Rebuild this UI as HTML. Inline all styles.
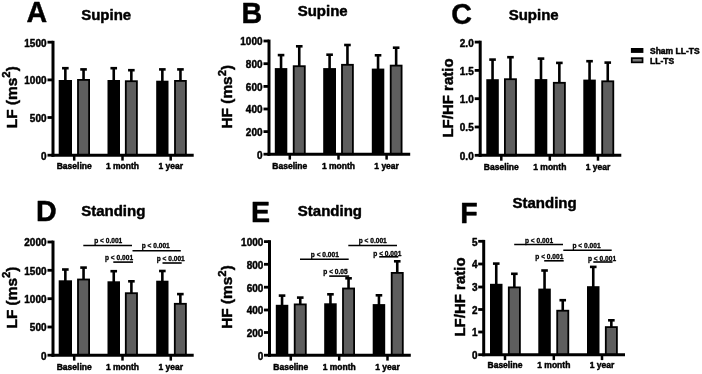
<!DOCTYPE html>
<html lang="en">
<head>
<meta charset="utf-8">
<title>Figure</title>
<style>
html,body{margin:0;padding:0;background:#fff;}
body{width:702px;height:374px;overflow:hidden;}
svg{display:block;filter:blur(0.35px);}
svg text{font-family:"Liberation Sans",sans-serif;font-weight:bold;fill:#000;stroke:#000;stroke-width:0.45px;stroke-linejoin:round;}
svg text.p{stroke-width:0.3px;}
</style>
</head>
<body>
<svg width="702" height="374" viewBox="0 0 702 374">
<rect x="0" y="0" width="702" height="374" fill="#fff"/>
<g id="panelA">
<line x1="65.35" y1="68.30" x2="65.35" y2="81.00" stroke="#000" stroke-width="2.6"/>
<line x1="62.05" y1="68.20" x2="68.65" y2="68.20" stroke="#000" stroke-width="2.6"/>
<rect x="58.70" y="80.00" width="13.30" height="75.20" fill="#000"/>
<line x1="83.55" y1="69.50" x2="83.55" y2="80.00" stroke="#000" stroke-width="2.6"/>
<line x1="80.25" y1="69.40" x2="86.85" y2="69.40" stroke="#000" stroke-width="2.6"/>
<rect x="78.00" y="79.90" width="11.10" height="75.30" fill="#5e5e5e" stroke="#000" stroke-width="1.8"/>
<line x1="113.75" y1="68.30" x2="113.75" y2="81.00" stroke="#000" stroke-width="2.6"/>
<line x1="110.45" y1="68.20" x2="117.05" y2="68.20" stroke="#000" stroke-width="2.6"/>
<rect x="107.50" y="80.00" width="12.50" height="75.20" fill="#000"/>
<line x1="131.35" y1="70.30" x2="131.35" y2="81.30" stroke="#000" stroke-width="2.6"/>
<line x1="128.05" y1="70.20" x2="134.65" y2="70.20" stroke="#000" stroke-width="2.6"/>
<rect x="125.80" y="81.20" width="11.10" height="74.00" fill="#5e5e5e" stroke="#000" stroke-width="1.8"/>
<line x1="162.35" y1="69.50" x2="162.35" y2="81.70" stroke="#000" stroke-width="2.6"/>
<line x1="159.05" y1="69.40" x2="165.65" y2="69.40" stroke="#000" stroke-width="2.6"/>
<rect x="156.20" y="80.70" width="12.30" height="74.50" fill="#000"/>
<line x1="180.45" y1="69.50" x2="180.45" y2="81.00" stroke="#000" stroke-width="2.6"/>
<line x1="177.15" y1="69.40" x2="183.75" y2="69.40" stroke="#000" stroke-width="2.6"/>
<rect x="175.00" y="80.90" width="10.90" height="74.30" fill="#5e5e5e" stroke="#000" stroke-width="1.8"/>
<line x1="53.00" y1="40.80" x2="53.00" y2="156.70" stroke="#000" stroke-width="3.0"/>
<line x1="51.50" y1="155.20" x2="193.70" y2="155.20" stroke="#000" stroke-width="3.0"/>
<line x1="47.50" y1="42.20" x2="53.00" y2="42.20" stroke="#000" stroke-width="2.8"/>
<text transform="translate(46.50,46.60) scale(0.96,1)" font-size="10.4" text-anchor="end">1500</text>
<line x1="47.50" y1="79.90" x2="53.00" y2="79.90" stroke="#000" stroke-width="2.8"/>
<text transform="translate(46.50,84.30) scale(0.96,1)" font-size="10.4" text-anchor="end">1000</text>
<line x1="47.50" y1="117.50" x2="53.00" y2="117.50" stroke="#000" stroke-width="2.8"/>
<text transform="translate(46.50,121.90) scale(0.96,1)" font-size="10.4" text-anchor="end">500</text>
<line x1="47.50" y1="155.20" x2="53.00" y2="155.20" stroke="#000" stroke-width="2.8"/>
<text transform="translate(46.50,159.60) scale(0.96,1)" font-size="10.4" text-anchor="end">0</text>
<line x1="74.20" y1="155.20" x2="74.20" y2="160.60" stroke="#000" stroke-width="2.5"/>
<text x="74.20" y="169.40" font-size="8.5" text-anchor="middle">Baseline</text>
<line x1="122.50" y1="155.20" x2="122.50" y2="160.60" stroke="#000" stroke-width="2.5"/>
<text x="122.50" y="169.40" font-size="8.5" text-anchor="middle">1 month</text>
<line x1="170.70" y1="155.20" x2="170.70" y2="160.60" stroke="#000" stroke-width="2.5"/>
<text x="170.70" y="169.40" font-size="8.5" text-anchor="middle">1 year</text>
<text x="26.40" y="21.70" font-size="28.6" text-anchor="start">A</text>
<text x="81.20" y="20.40" font-size="15" text-anchor="start">Supine</text>
<text transform="translate(16.90,97.20) rotate(-90)" font-size="15.4" text-anchor="middle">LF (ms<tspan font-size="11.4" dy="-6.7">2</tspan><tspan dy="6.7">)</tspan></text>
</g>
<g id="panelB">
<line x1="281.05" y1="55.20" x2="281.05" y2="69.10" stroke="#000" stroke-width="2.6"/>
<line x1="277.75" y1="55.10" x2="284.35" y2="55.10" stroke="#000" stroke-width="2.6"/>
<rect x="274.80" y="68.10" width="12.50" height="86.10" fill="#000"/>
<line x1="299.25" y1="46.40" x2="299.25" y2="66.30" stroke="#000" stroke-width="2.6"/>
<line x1="295.95" y1="46.30" x2="302.55" y2="46.30" stroke="#000" stroke-width="2.6"/>
<rect x="293.70" y="66.20" width="11.10" height="88.00" fill="#5e5e5e" stroke="#000" stroke-width="1.8"/>
<line x1="329.60" y1="54.80" x2="329.60" y2="69.10" stroke="#000" stroke-width="2.6"/>
<line x1="326.30" y1="54.70" x2="332.90" y2="54.70" stroke="#000" stroke-width="2.6"/>
<rect x="323.20" y="68.10" width="12.80" height="86.10" fill="#000"/>
<line x1="347.45" y1="45.10" x2="347.45" y2="64.90" stroke="#000" stroke-width="2.6"/>
<line x1="344.15" y1="45.00" x2="350.75" y2="45.00" stroke="#000" stroke-width="2.6"/>
<rect x="342.00" y="64.80" width="10.90" height="89.40" fill="#5e5e5e" stroke="#000" stroke-width="1.8"/>
<line x1="378.05" y1="55.40" x2="378.05" y2="69.60" stroke="#000" stroke-width="2.6"/>
<line x1="374.75" y1="55.30" x2="381.35" y2="55.30" stroke="#000" stroke-width="2.6"/>
<rect x="371.80" y="68.60" width="12.50" height="85.60" fill="#000"/>
<line x1="396.15" y1="47.80" x2="396.15" y2="65.70" stroke="#000" stroke-width="2.6"/>
<line x1="392.85" y1="47.70" x2="399.45" y2="47.70" stroke="#000" stroke-width="2.6"/>
<rect x="390.70" y="65.60" width="10.90" height="88.60" fill="#5e5e5e" stroke="#000" stroke-width="1.8"/>
<line x1="269.00" y1="39.60" x2="269.00" y2="155.70" stroke="#000" stroke-width="3.0"/>
<line x1="267.50" y1="154.20" x2="410.20" y2="154.20" stroke="#000" stroke-width="3.0"/>
<line x1="263.50" y1="41.00" x2="269.00" y2="41.00" stroke="#000" stroke-width="2.8"/>
<text transform="translate(262.50,45.40) scale(0.96,1)" font-size="10.4" text-anchor="end">1000</text>
<line x1="263.50" y1="63.70" x2="269.00" y2="63.70" stroke="#000" stroke-width="2.8"/>
<text transform="translate(262.50,68.10) scale(0.96,1)" font-size="10.4" text-anchor="end">800</text>
<line x1="263.50" y1="86.40" x2="269.00" y2="86.40" stroke="#000" stroke-width="2.8"/>
<text transform="translate(262.50,90.80) scale(0.96,1)" font-size="10.4" text-anchor="end">600</text>
<line x1="263.50" y1="109.00" x2="269.00" y2="109.00" stroke="#000" stroke-width="2.8"/>
<text transform="translate(262.50,113.40) scale(0.96,1)" font-size="10.4" text-anchor="end">400</text>
<line x1="263.50" y1="131.60" x2="269.00" y2="131.60" stroke="#000" stroke-width="2.8"/>
<text transform="translate(262.50,136.00) scale(0.96,1)" font-size="10.4" text-anchor="end">200</text>
<line x1="263.50" y1="154.20" x2="269.00" y2="154.20" stroke="#000" stroke-width="2.8"/>
<text transform="translate(262.50,158.60) scale(0.96,1)" font-size="10.4" text-anchor="end">0</text>
<line x1="289.80" y1="154.20" x2="289.80" y2="159.60" stroke="#000" stroke-width="2.5"/>
<text x="289.80" y="168.50" font-size="8.5" text-anchor="middle">Baseline</text>
<line x1="338.50" y1="154.20" x2="338.50" y2="159.60" stroke="#000" stroke-width="2.5"/>
<text x="338.50" y="168.50" font-size="8.5" text-anchor="middle">1 month</text>
<line x1="386.60" y1="154.20" x2="386.60" y2="159.60" stroke="#000" stroke-width="2.5"/>
<text x="386.60" y="168.50" font-size="8.5" text-anchor="middle">1 year</text>
<text x="241.50" y="22.70" font-size="28.6" text-anchor="start">B</text>
<text x="297.70" y="15.80" font-size="15" text-anchor="start">Supine</text>
<text transform="translate(232.40,96.70) rotate(-90)" font-size="15.4" text-anchor="middle">HF (ms<tspan font-size="11.4" dy="-6.7">2</tspan><tspan dy="6.7">)</tspan></text>
</g>
<g id="panelC">
<line x1="492.55" y1="59.70" x2="492.55" y2="80.20" stroke="#000" stroke-width="2.6"/>
<line x1="489.25" y1="59.60" x2="495.85" y2="59.60" stroke="#000" stroke-width="2.6"/>
<rect x="486.30" y="79.20" width="12.50" height="76.10" fill="#000"/>
<line x1="510.45" y1="57.30" x2="510.45" y2="79.30" stroke="#000" stroke-width="2.6"/>
<line x1="507.15" y1="57.20" x2="513.75" y2="57.20" stroke="#000" stroke-width="2.6"/>
<rect x="504.90" y="79.20" width="11.10" height="76.10" fill="#5e5e5e" stroke="#000" stroke-width="1.8"/>
<line x1="541.00" y1="58.70" x2="541.00" y2="80.10" stroke="#000" stroke-width="2.6"/>
<line x1="537.70" y1="58.60" x2="544.30" y2="58.60" stroke="#000" stroke-width="2.6"/>
<rect x="534.70" y="79.10" width="12.60" height="76.20" fill="#000"/>
<line x1="559.35" y1="63.00" x2="559.35" y2="82.90" stroke="#000" stroke-width="2.6"/>
<line x1="556.05" y1="62.90" x2="562.65" y2="62.90" stroke="#000" stroke-width="2.6"/>
<rect x="553.80" y="82.80" width="11.10" height="72.50" fill="#5e5e5e" stroke="#000" stroke-width="1.8"/>
<line x1="589.55" y1="61.30" x2="589.55" y2="80.60" stroke="#000" stroke-width="2.6"/>
<line x1="586.25" y1="61.20" x2="592.85" y2="61.20" stroke="#000" stroke-width="2.6"/>
<rect x="583.30" y="79.60" width="12.50" height="75.70" fill="#000"/>
<line x1="607.75" y1="62.70" x2="607.75" y2="81.40" stroke="#000" stroke-width="2.6"/>
<line x1="604.45" y1="62.60" x2="611.05" y2="62.60" stroke="#000" stroke-width="2.6"/>
<rect x="602.20" y="81.30" width="11.10" height="74.00" fill="#5e5e5e" stroke="#000" stroke-width="1.8"/>
<line x1="480.20" y1="40.70" x2="480.20" y2="156.80" stroke="#000" stroke-width="3.0"/>
<line x1="478.70" y1="155.30" x2="621.30" y2="155.30" stroke="#000" stroke-width="3.0"/>
<line x1="474.70" y1="42.10" x2="480.20" y2="42.10" stroke="#000" stroke-width="2.8"/>
<text transform="translate(473.70,46.50) scale(0.96,1)" font-size="10.4" text-anchor="end">2.0</text>
<line x1="474.70" y1="70.40" x2="480.20" y2="70.40" stroke="#000" stroke-width="2.8"/>
<text transform="translate(473.70,74.80) scale(0.96,1)" font-size="10.4" text-anchor="end">1.5</text>
<line x1="474.70" y1="98.70" x2="480.20" y2="98.70" stroke="#000" stroke-width="2.8"/>
<text transform="translate(473.70,103.10) scale(0.96,1)" font-size="10.4" text-anchor="end">1.0</text>
<line x1="474.70" y1="127.00" x2="480.20" y2="127.00" stroke="#000" stroke-width="2.8"/>
<text transform="translate(473.70,131.40) scale(0.96,1)" font-size="10.4" text-anchor="end">0.5</text>
<line x1="474.70" y1="155.30" x2="480.20" y2="155.30" stroke="#000" stroke-width="2.8"/>
<text transform="translate(473.70,159.70) scale(0.96,1)" font-size="10.4" text-anchor="end">0.0</text>
<line x1="501.30" y1="155.30" x2="501.30" y2="160.70" stroke="#000" stroke-width="2.5"/>
<text x="501.30" y="169.80" font-size="8.5" text-anchor="middle">Baseline</text>
<line x1="549.80" y1="155.30" x2="549.80" y2="160.70" stroke="#000" stroke-width="2.5"/>
<text x="549.80" y="169.80" font-size="8.5" text-anchor="middle">1 month</text>
<line x1="598.00" y1="155.30" x2="598.00" y2="160.70" stroke="#000" stroke-width="2.5"/>
<text x="598.00" y="169.80" font-size="8.5" text-anchor="middle">1 year</text>
<text x="451.30" y="23.60" font-size="28.6" text-anchor="start">C</text>
<text x="508.70" y="20.40" font-size="15" text-anchor="start">Supine</text>
<text transform="translate(452.50,98.00) rotate(-90)" font-size="15" text-anchor="middle">LF/HF ratio</text>
</g>
<g id="panelD">
<line x1="65.35" y1="269.60" x2="65.35" y2="281.30" stroke="#000" stroke-width="2.6"/>
<line x1="62.05" y1="269.50" x2="68.65" y2="269.50" stroke="#000" stroke-width="2.6"/>
<rect x="58.70" y="280.30" width="13.30" height="74.90" fill="#000"/>
<line x1="83.55" y1="267.70" x2="83.55" y2="279.60" stroke="#000" stroke-width="2.6"/>
<line x1="80.25" y1="267.60" x2="86.85" y2="267.60" stroke="#000" stroke-width="2.6"/>
<rect x="78.00" y="279.50" width="11.10" height="75.70" fill="#5e5e5e" stroke="#000" stroke-width="1.8"/>
<line x1="113.75" y1="271.30" x2="113.75" y2="282.30" stroke="#000" stroke-width="2.6"/>
<line x1="110.45" y1="271.20" x2="117.05" y2="271.20" stroke="#000" stroke-width="2.6"/>
<rect x="107.50" y="281.30" width="12.50" height="73.90" fill="#000"/>
<line x1="131.40" y1="281.40" x2="131.40" y2="293.30" stroke="#000" stroke-width="2.6"/>
<line x1="128.10" y1="281.30" x2="134.70" y2="281.30" stroke="#000" stroke-width="2.6"/>
<rect x="125.80" y="293.20" width="11.20" height="62.00" fill="#5e5e5e" stroke="#000" stroke-width="1.8"/>
<line x1="162.35" y1="271.10" x2="162.35" y2="281.70" stroke="#000" stroke-width="2.6"/>
<line x1="159.05" y1="271.00" x2="165.65" y2="271.00" stroke="#000" stroke-width="2.6"/>
<rect x="156.20" y="280.70" width="12.30" height="74.50" fill="#000"/>
<line x1="180.35" y1="294.20" x2="180.35" y2="303.90" stroke="#000" stroke-width="2.6"/>
<line x1="177.05" y1="294.10" x2="183.65" y2="294.10" stroke="#000" stroke-width="2.6"/>
<rect x="174.80" y="303.80" width="11.10" height="51.40" fill="#5e5e5e" stroke="#000" stroke-width="1.8"/>
<line x1="53.00" y1="240.60" x2="53.00" y2="356.70" stroke="#000" stroke-width="3.0"/>
<line x1="51.50" y1="355.20" x2="193.70" y2="355.20" stroke="#000" stroke-width="3.0"/>
<line x1="47.50" y1="242.00" x2="53.00" y2="242.00" stroke="#000" stroke-width="2.8"/>
<text transform="translate(46.50,246.40) scale(0.96,1)" font-size="10.4" text-anchor="end">2000</text>
<line x1="47.50" y1="270.30" x2="53.00" y2="270.30" stroke="#000" stroke-width="2.8"/>
<text transform="translate(46.50,274.70) scale(0.96,1)" font-size="10.4" text-anchor="end">1500</text>
<line x1="47.50" y1="298.70" x2="53.00" y2="298.70" stroke="#000" stroke-width="2.8"/>
<text transform="translate(46.50,303.10) scale(0.96,1)" font-size="10.4" text-anchor="end">1000</text>
<line x1="47.50" y1="327.00" x2="53.00" y2="327.00" stroke="#000" stroke-width="2.8"/>
<text transform="translate(46.50,331.40) scale(0.96,1)" font-size="10.4" text-anchor="end">500</text>
<line x1="47.50" y1="355.20" x2="53.00" y2="355.20" stroke="#000" stroke-width="2.8"/>
<text transform="translate(46.50,359.60) scale(0.96,1)" font-size="10.4" text-anchor="end">0</text>
<line x1="74.20" y1="355.20" x2="74.20" y2="360.60" stroke="#000" stroke-width="2.5"/>
<text x="74.20" y="369.70" font-size="8.5" text-anchor="middle">Baseline</text>
<line x1="122.50" y1="355.20" x2="122.50" y2="360.60" stroke="#000" stroke-width="2.5"/>
<text x="122.50" y="369.70" font-size="8.5" text-anchor="middle">1 month</text>
<line x1="170.80" y1="355.20" x2="170.80" y2="360.60" stroke="#000" stroke-width="2.5"/>
<text x="170.80" y="369.70" font-size="8.5" text-anchor="middle">1 year</text>
<text x="36.00" y="221.20" font-size="28.6" text-anchor="start">D</text>
<text x="81.20" y="216.30" font-size="15" text-anchor="start">Standing</text>
<text transform="translate(16.90,297.50) rotate(-90)" font-size="15.4" text-anchor="middle">LF (ms<tspan font-size="11.4" dy="-6.7">2</tspan><tspan dy="6.7">)</tspan></text>
<line x1="83.30" y1="245.50" x2="132.00" y2="245.50" stroke="#000" stroke-width="1.6"/>
<line x1="132.50" y1="250.80" x2="180.80" y2="250.80" stroke="#000" stroke-width="1.6"/>
<line x1="113.30" y1="262.10" x2="133.00" y2="262.10" stroke="#000" stroke-width="1.6"/>
<line x1="162.50" y1="263.00" x2="181.70" y2="263.00" stroke="#000" stroke-width="1.6"/>
<text x="94.20" y="243.30" font-size="6.6" text-anchor="start" class="p">p &lt; 0.001</text>
<text x="141.70" y="247.80" font-size="6.6" text-anchor="start" class="p">p &lt; 0.001</text>
<text x="105.00" y="260.00" font-size="6.6" text-anchor="start" class="p">p &lt; 0.001</text>
<text x="156.70" y="261.30" font-size="6.6" text-anchor="start" class="p">p &lt; 0.001</text>
</g>
<g id="panelE">
<line x1="282.05" y1="295.70" x2="282.05" y2="305.80" stroke="#000" stroke-width="2.6"/>
<line x1="278.75" y1="295.60" x2="285.35" y2="295.60" stroke="#000" stroke-width="2.6"/>
<rect x="275.80" y="304.80" width="12.50" height="50.40" fill="#000"/>
<line x1="300.25" y1="297.70" x2="300.25" y2="304.50" stroke="#000" stroke-width="2.6"/>
<line x1="296.95" y1="297.60" x2="303.55" y2="297.60" stroke="#000" stroke-width="2.6"/>
<rect x="294.70" y="304.40" width="11.10" height="50.80" fill="#5e5e5e" stroke="#000" stroke-width="1.8"/>
<line x1="330.45" y1="294.40" x2="330.45" y2="304.30" stroke="#000" stroke-width="2.6"/>
<line x1="327.15" y1="294.30" x2="333.75" y2="294.30" stroke="#000" stroke-width="2.6"/>
<rect x="324.20" y="303.30" width="12.50" height="51.90" fill="#000"/>
<line x1="348.55" y1="278.40" x2="348.55" y2="288.60" stroke="#000" stroke-width="2.6"/>
<line x1="345.25" y1="278.30" x2="351.85" y2="278.30" stroke="#000" stroke-width="2.6"/>
<rect x="343.00" y="288.50" width="11.10" height="66.70" fill="#5e5e5e" stroke="#000" stroke-width="1.8"/>
<line x1="378.95" y1="295.40" x2="378.95" y2="305.10" stroke="#000" stroke-width="2.6"/>
<line x1="375.65" y1="295.30" x2="382.25" y2="295.30" stroke="#000" stroke-width="2.6"/>
<rect x="372.70" y="304.10" width="12.50" height="51.10" fill="#000"/>
<line x1="397.25" y1="261.40" x2="397.25" y2="273.00" stroke="#000" stroke-width="2.6"/>
<line x1="393.95" y1="261.30" x2="400.55" y2="261.30" stroke="#000" stroke-width="2.6"/>
<rect x="391.70" y="272.90" width="11.10" height="82.30" fill="#5e5e5e" stroke="#000" stroke-width="1.8"/>
<line x1="269.50" y1="240.20" x2="269.50" y2="356.70" stroke="#000" stroke-width="3.0"/>
<line x1="268.00" y1="355.20" x2="410.80" y2="355.20" stroke="#000" stroke-width="3.0"/>
<line x1="264.00" y1="241.60" x2="269.50" y2="241.60" stroke="#000" stroke-width="2.8"/>
<text transform="translate(263.30,246.00) scale(0.96,1)" font-size="10.4" text-anchor="end">1000</text>
<line x1="264.00" y1="264.30" x2="269.50" y2="264.30" stroke="#000" stroke-width="2.8"/>
<text transform="translate(263.30,268.70) scale(0.96,1)" font-size="10.4" text-anchor="end">800</text>
<line x1="264.00" y1="287.20" x2="269.50" y2="287.20" stroke="#000" stroke-width="2.8"/>
<text transform="translate(263.30,291.60) scale(0.96,1)" font-size="10.4" text-anchor="end">600</text>
<line x1="264.00" y1="310.00" x2="269.50" y2="310.00" stroke="#000" stroke-width="2.8"/>
<text transform="translate(263.30,314.40) scale(0.96,1)" font-size="10.4" text-anchor="end">400</text>
<line x1="264.00" y1="332.50" x2="269.50" y2="332.50" stroke="#000" stroke-width="2.8"/>
<text transform="translate(263.30,336.90) scale(0.96,1)" font-size="10.4" text-anchor="end">200</text>
<line x1="264.00" y1="355.20" x2="269.50" y2="355.20" stroke="#000" stroke-width="2.8"/>
<text transform="translate(263.30,359.60) scale(0.96,1)" font-size="10.4" text-anchor="end">0</text>
<line x1="290.80" y1="355.20" x2="290.80" y2="360.60" stroke="#000" stroke-width="2.5"/>
<text x="290.80" y="369.70" font-size="8.5" text-anchor="middle">Baseline</text>
<line x1="339.20" y1="355.20" x2="339.20" y2="360.60" stroke="#000" stroke-width="2.5"/>
<text x="339.20" y="369.70" font-size="8.5" text-anchor="middle">1 month</text>
<line x1="387.50" y1="355.20" x2="387.50" y2="360.60" stroke="#000" stroke-width="2.5"/>
<text x="387.50" y="369.70" font-size="8.5" text-anchor="middle">1 year</text>
<text x="251.10" y="222.00" font-size="28.6" text-anchor="start">E</text>
<text x="297.80" y="215.80" font-size="15" text-anchor="start">Standing</text>
<text transform="translate(232.40,297.00) rotate(-90)" font-size="15.4" text-anchor="middle">HF (ms<tspan font-size="11.4" dy="-6.7">2</tspan><tspan dy="6.7">)</tspan></text>
<line x1="348.30" y1="245.50" x2="397.00" y2="245.50" stroke="#000" stroke-width="1.6"/>
<line x1="300.00" y1="259.20" x2="348.70" y2="259.20" stroke="#000" stroke-width="1.6"/>
<line x1="329.20" y1="276.10" x2="349.20" y2="276.10" stroke="#000" stroke-width="1.6"/>
<line x1="379.20" y1="256.80" x2="398.30" y2="256.80" stroke="#000" stroke-width="1.6"/>
<text x="358.70" y="243.00" font-size="6.6" text-anchor="start" class="p">p &lt; 0.001</text>
<text x="310.80" y="257.30" font-size="6.6" text-anchor="start" class="p">p &lt; 0.001</text>
<text x="323.30" y="273.60" font-size="6.6" text-anchor="start" class="p">p &lt; 0.05</text>
<text x="373.30" y="256.00" font-size="6.6" text-anchor="start" class="p">p &lt; 0.001</text>
</g>
<g id="panelF">
<line x1="496.25" y1="263.70" x2="496.25" y2="284.80" stroke="#000" stroke-width="2.6"/>
<line x1="492.95" y1="263.60" x2="499.55" y2="263.60" stroke="#000" stroke-width="2.6"/>
<rect x="490.00" y="283.80" width="12.50" height="70.90" fill="#000"/>
<line x1="514.35" y1="273.90" x2="514.35" y2="287.50" stroke="#000" stroke-width="2.6"/>
<line x1="511.05" y1="273.80" x2="517.65" y2="273.80" stroke="#000" stroke-width="2.6"/>
<rect x="508.80" y="287.40" width="11.10" height="67.30" fill="#5e5e5e" stroke="#000" stroke-width="1.8"/>
<line x1="544.55" y1="270.60" x2="544.55" y2="289.60" stroke="#000" stroke-width="2.6"/>
<line x1="541.25" y1="270.50" x2="547.85" y2="270.50" stroke="#000" stroke-width="2.6"/>
<rect x="538.30" y="288.60" width="12.50" height="66.10" fill="#000"/>
<line x1="562.75" y1="300.30" x2="562.75" y2="310.80" stroke="#000" stroke-width="2.6"/>
<line x1="559.45" y1="300.20" x2="566.05" y2="300.20" stroke="#000" stroke-width="2.6"/>
<rect x="557.20" y="310.70" width="11.10" height="44.00" fill="#5e5e5e" stroke="#000" stroke-width="1.8"/>
<line x1="593.25" y1="267.00" x2="593.25" y2="287.20" stroke="#000" stroke-width="2.6"/>
<line x1="589.95" y1="266.90" x2="596.55" y2="266.90" stroke="#000" stroke-width="2.6"/>
<rect x="587.00" y="286.20" width="12.50" height="68.50" fill="#000"/>
<line x1="611.35" y1="320.40" x2="611.35" y2="327.20" stroke="#000" stroke-width="2.6"/>
<line x1="608.05" y1="320.30" x2="614.65" y2="320.30" stroke="#000" stroke-width="2.6"/>
<rect x="605.80" y="327.10" width="11.10" height="27.60" fill="#5e5e5e" stroke="#000" stroke-width="1.8"/>
<line x1="483.70" y1="239.90" x2="483.70" y2="356.20" stroke="#000" stroke-width="3.0"/>
<line x1="482.20" y1="354.70" x2="625.00" y2="354.70" stroke="#000" stroke-width="3.0"/>
<line x1="478.20" y1="241.30" x2="483.70" y2="241.30" stroke="#000" stroke-width="2.8"/>
<text transform="translate(477.50,245.70) scale(0.96,1)" font-size="10.4" text-anchor="end">5</text>
<line x1="478.20" y1="264.00" x2="483.70" y2="264.00" stroke="#000" stroke-width="2.8"/>
<text transform="translate(477.50,268.40) scale(0.96,1)" font-size="10.4" text-anchor="end">4</text>
<line x1="478.20" y1="287.00" x2="483.70" y2="287.00" stroke="#000" stroke-width="2.8"/>
<text transform="translate(477.50,291.40) scale(0.96,1)" font-size="10.4" text-anchor="end">3</text>
<line x1="478.20" y1="309.50" x2="483.70" y2="309.50" stroke="#000" stroke-width="2.8"/>
<text transform="translate(477.50,313.90) scale(0.96,1)" font-size="10.4" text-anchor="end">2</text>
<line x1="478.20" y1="332.00" x2="483.70" y2="332.00" stroke="#000" stroke-width="2.8"/>
<text transform="translate(477.50,336.40) scale(0.96,1)" font-size="10.4" text-anchor="end">1</text>
<line x1="478.20" y1="354.70" x2="483.70" y2="354.70" stroke="#000" stroke-width="2.8"/>
<text transform="translate(477.50,359.10) scale(0.96,1)" font-size="10.4" text-anchor="end">0</text>
<line x1="505.00" y1="354.70" x2="505.00" y2="360.10" stroke="#000" stroke-width="2.5"/>
<text x="505.00" y="368.40" font-size="8.5" text-anchor="middle">Baseline</text>
<line x1="553.80" y1="354.70" x2="553.80" y2="360.10" stroke="#000" stroke-width="2.5"/>
<text x="553.80" y="368.40" font-size="8.5" text-anchor="middle">1 month</text>
<line x1="602.00" y1="354.70" x2="602.00" y2="360.10" stroke="#000" stroke-width="2.5"/>
<text x="602.00" y="368.40" font-size="8.5" text-anchor="middle">1 year</text>
<text x="460.30" y="222.90" font-size="28.6" text-anchor="start">F</text>
<text x="512.50" y="207.60" font-size="15" text-anchor="start">Standing</text>
<text transform="translate(465.20,297.00) rotate(-90)" font-size="15" text-anchor="middle">LF/HF ratio</text>
<line x1="514.20" y1="244.50" x2="563.00" y2="244.50" stroke="#000" stroke-width="1.6"/>
<line x1="563.30" y1="250.30" x2="611.70" y2="250.30" stroke="#000" stroke-width="1.6"/>
<line x1="544.20" y1="260.80" x2="563.70" y2="260.80" stroke="#000" stroke-width="1.6"/>
<line x1="593.30" y1="262.00" x2="612.50" y2="262.00" stroke="#000" stroke-width="1.6"/>
<text x="525.00" y="242.50" font-size="6.6" text-anchor="start" class="p">p &lt; 0.001</text>
<text x="572.50" y="248.00" font-size="6.6" text-anchor="start" class="p">p &lt; 0.001</text>
<text x="535.30" y="259.20" font-size="6.6" text-anchor="start" class="p">p &lt; 0.001</text>
<text x="588.00" y="260.80" font-size="6.6" text-anchor="start" class="p">p &lt; 0.001</text>
</g>
<g id="legend">
<rect x="630.9" y="48" width="12.5" height="4.9" fill="#000"/>
<rect x="631.75" y="58.15" width="10.8" height="4.2" fill="#777" stroke="#000" stroke-width="1.7"/>
<text x="650.00" y="54.00" font-size="8.5" text-anchor="start">Sham LL-TS</text>
<text x="650.00" y="64.00" font-size="8.5" text-anchor="start">LL-TS</text>
</g>
</svg>
</body>
</html>
